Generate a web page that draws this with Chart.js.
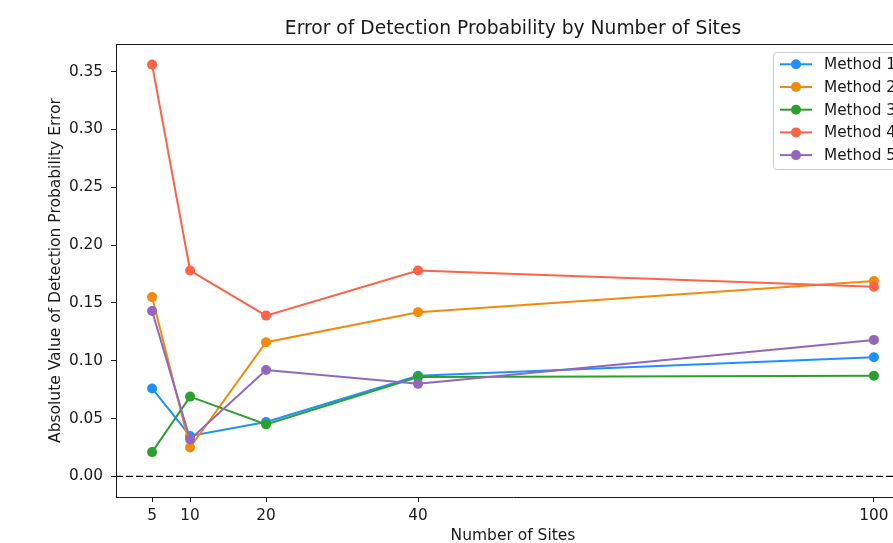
<!DOCTYPE html>
<html>
<head>
<meta charset="utf-8">
<script src="https://cdn.jsdelivr.net/npm/chart.js@4/dist/chart.umd.min.js"></script>
<style>
  html, body { margin: 0; padding: 0; background: #fff; overflow: hidden; }
  #wrap { position: absolute; left: 0; top: 0; }
</style>
</head>
<body>
<div id="wrap"><canvas id="chart" width="920" height="543"></canvas></div>
<script>
// number of sites on the x axis
const sites = [5, 10, 20, 40, 100];
const yTicks = [0, 0.05, 0.10, 0.15, 0.20, 0.25, 0.30, 0.35];

// absolute detection probability error per method
const method1 = [0.076, 0.035, 0.047, 0.087, 0.103];
const method2 = [0.155, 0.025, 0.116, 0.142, 0.169];
const method3 = [0.021, 0.069, 0.045, 0.086, 0.087];
const method4 = [0.356, 0.178, 0.139, 0.178, 0.164];
const method5 = [0.143, 0.032, 0.092, 0.080, 0.118];

const seriesNames = ["Method 1", "Method 2", "Method 3", "Method 4", "Method 5"];
const seriesValues = [method1, method2, method3, method4, method5];
const seriesColors = ["#1e90ff", "#f28a0a", "#2ca02c", "#ff6347", "#9467bd"];

const FONT = "'DejaVu Sans', sans-serif";
const INK = "#1a1a1a";

function toPoints(values) {
    return values.map(function(v, i) { return {x: sites[i], y: v}; });
}

const datasets = seriesValues.map(function(values, i) {
    return {
        label: seriesNames[i],
        data: toPoints(values),
        borderColor: seriesColors[i],
        backgroundColor: seriesColors[i],
        pointBackgroundColor: seriesColors[i],
        pointBorderWidth: 0,
        pointRadius: 5,
        borderWidth: 2,
        tension: 0,
        // later series on top, like matplotlib
        order: seriesValues.length - i
    };
});

// title, zero line, top spine, axis titles and legend box
const extras = {
    id: "extras",
    beforeDatasetsDraw(chart) {
        const ctx = chart.ctx;
        const area = chart.chartArea;
        const y0 = chart.scales.y.getPixelForValue(0);
        ctx.save();
        ctx.strokeStyle = "#000";
        ctx.lineWidth = 1.3;
        ctx.setLineDash([7, 3]);
        ctx.beginPath();
        ctx.moveTo(area.left, y0);
        ctx.lineTo(area.right, y0);
        ctx.stroke();
        ctx.restore();
    },
    afterDraw(chart) {
        const ctx = chart.ctx;
        const area = chart.chartArea;
        ctx.save();

        // top and right spines
        ctx.strokeStyle = INK;
        ctx.lineWidth = 1;
        ctx.beginPath();
        ctx.moveTo(area.left, area.top + 0.5);
        ctx.lineTo(area.right, area.top + 0.5);
        ctx.lineTo(area.right, area.bottom);
        ctx.stroke();

        // title
        ctx.fillStyle = INK;
        ctx.textAlign = "center";
        ctx.textBaseline = "middle";
        ctx.font = "18.7px " + FONT;
        const cx = (area.left + area.right) / 2;
        ctx.fillText("Error of Detection Probability by Number of Sites", cx, 29);

        // axis titles
        ctx.font = "15.5px " + FONT;
        ctx.fillText("Number of Sites", cx, 536);
        ctx.save();
        ctx.translate(56, (area.top + area.bottom) / 2);
        ctx.rotate(-Math.PI / 2);
        ctx.fillText("Absolute Value of Detection Probability Error", 0, 0);
        ctx.restore();

        // legend
        const lx = 773, ly = 52, lw = 140, lh = 117;
        ctx.fillStyle = "rgba(255,255,255,0.85)";
        ctx.strokeStyle = "#cccccc";
        ctx.lineWidth = 1;
        ctx.beginPath();
        ctx.roundRect(lx + 0.5, ly + 0.5, lw, lh, 3);
        ctx.fill();
        ctx.stroke();

        ctx.textAlign = "left";
        ctx.font = "15.3px " + FONT;
        for (let i = 0; i < seriesNames.length; i++) {
            const ry = 64.3 + i * 22.7;
            ctx.strokeStyle = seriesColors[i];
            ctx.lineWidth = 2;
            ctx.beginPath();
            ctx.moveTo(780, ry);
            ctx.lineTo(812, ry);
            ctx.stroke();
            ctx.fillStyle = seriesColors[i];
            ctx.beginPath();
            ctx.arc(796, ry, 5, 0, Math.PI * 2);
            ctx.fill();
            ctx.fillStyle = INK;
            ctx.fillText(seriesNames[i], 824, ry + 1);
        }
        ctx.restore();
    }
};

new Chart(document.getElementById("chart"), {
    type: "line",
    data: { datasets: datasets },
    options: {
        responsive: false,
        devicePixelRatio: 1,
        animation: false,
        layout: { padding: { top: 44, right: 10, left: 0, bottom: 0 } },
        plugins: {
            legend: { display: false },
            title: { display: false },
            tooltip: { enabled: false }
        },
        scales: {
            x: {
                type: "linear",
                min: 0.25,
                max: 104.75,
                afterFit: function(scale) { scale.height = 46; },
                afterBuildTicks: function(scale) {
                    scale.ticks = sites.map(function(v) { return {value: v}; });
                },
                grid: { drawOnChartArea: false, drawTicks: true, tickLength: 5, color: INK },
                border: { color: INK, width: 1 },
                ticks: {
                    autoSkip: false,
                    maxRotation: 0,
                    padding: 5,
                    color: INK,
                    font: { family: FONT, size: 15.3 }
                }
            },
            y: {
                type: "linear",
                min: -0.0178,
                max: 0.3738,
                afterFit: function(scale) { scale.width = 116; },
                afterBuildTicks: function(scale) {
                    scale.ticks = yTicks.map(function(v) { return {value: v}; });
                },
                grid: { drawOnChartArea: false, drawTicks: true, tickLength: 5, color: INK },
                border: { color: INK, width: 1 },
                ticks: {
                    padding: 8,
                    color: INK,
                    font: { family: FONT, size: 15.3 },
                    callback: function(v) { return Number(v).toFixed(2); }
                }
            }
        }
    },
    plugins: [extras]
});
</script>
</body>
</html>
